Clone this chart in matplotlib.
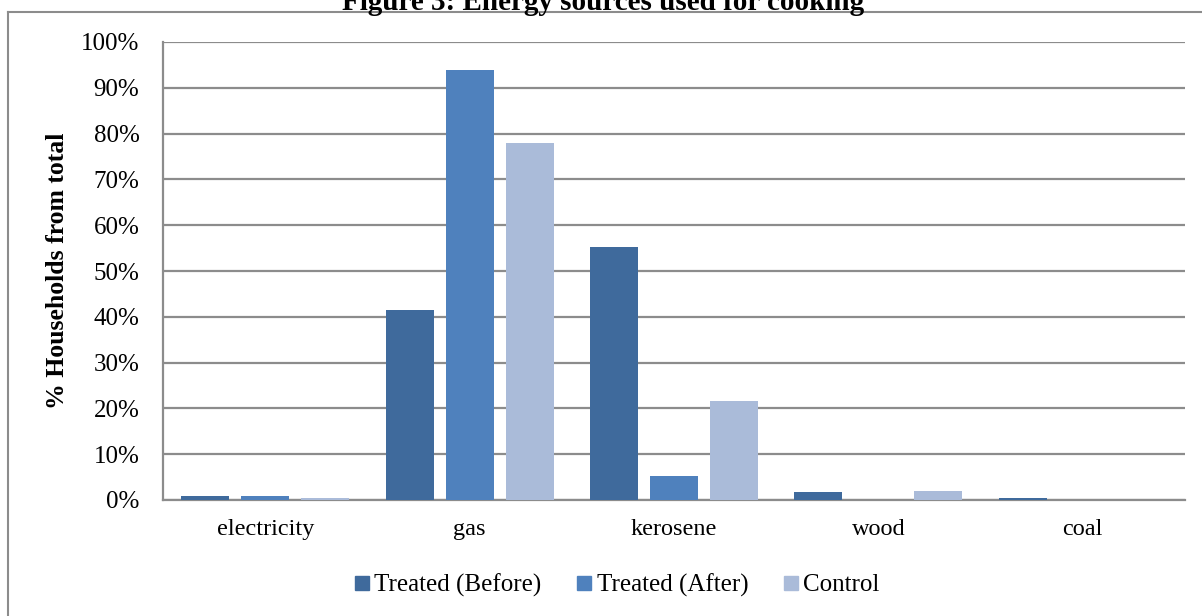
import numpy as np
import matplotlib.pyplot as plt
from matplotlib.lines import Line2D

# data (% of households)
categories = ['electricity', 'gas', 'kerosene', 'wood', 'coal']
treated_before = [0.9, 41.5, 55.2, 1.7, 0.4]
treated_after = [0.9, 93.9, 5.2, 0.0, 0.0]
control = [0.4, 78.0, 21.6, 2.0, 0.0]
series_names = ['Treated (Before)', 'Treated (After)', 'Control']
colors = ['#3F6A9C', '#4F81BD', '#AABBD9']

plt.rcParams['font.family'] = ['Liberation Serif', 'DejaVu Serif']

fig = plt.figure(figsize=(12.02, 6.16), dpi=100)
ax = fig.add_axes([163 / 1202, 1 - 500 / 616, (1185 - 163) / 1202, 458 / 616])

x = np.arange(len(categories))
step = 0.2935
width = 0.235
for i, (vals, name, c) in enumerate(zip([treated_before, treated_after, control], series_names, colors)):
    ax.bar(x + (i - 1) * step, vals, width, color=c, label=name, zorder=3)

ax.set_xlim(-0.5, len(categories) - 0.5)
ax.set_ylim(0, 100)
ax.set_yticks(np.arange(0, 101, 10))
ax.set_yticklabels([f'{v}%' for v in range(0, 101, 10)], fontsize=18)
ax.set_xticks(x)
ax.set_xticklabels(categories, fontsize=17.5)
ax.tick_params(axis='y', length=0, pad=17)
ax.tick_params(axis='x', length=0, pad=14)
ax.yaxis.grid(True, color='#8C8C8C', linewidth=1.6, zorder=0)
for s in ['top', 'right']:
    ax.spines[s].set_visible(False)
ax.spines['left'].set_color('#8C8C8C')
ax.spines['left'].set_linewidth(1.6)
ax.spines['bottom'].set_color('#8C8C8C')
ax.spines['bottom'].set_linewidth(1.6)
ax.set_ylabel('% Households from total', fontsize=18.5, fontweight='bold', labelpad=9)

handles = [Line2D([], [], marker='s', linestyle='none', markersize=10.5, color=c) for c in colors]
fig.legend(handles, series_names, loc='center', bbox_to_anchor=(617 / 1202, 1 - 585 / 616),
           ncol=3, frameon=False, fontsize=18, handlelength=0.6, handletextpad=0.2,
           columnspacing=1.4)

# title, cut off at the top like the reference
fig.text(0.502, 1 - 10 / 616, 'Figure 3: Energy sources used for cooking', ha='center', va='baseline',
         fontsize=21, fontweight='bold')

# outer frame (left and top edges visible)
fig.add_artist(Line2D([8 / 1202, 8 / 1202], [0, 1 - 12 / 616], color='#8C8C8C', linewidth=1.5,
                      transform=fig.transFigure))
fig.add_artist(Line2D([8 / 1202, 1], [1 - 12 / 616, 1 - 12 / 616], color='#8C8C8C', linewidth=1.5,
                      transform=fig.transFigure))

fig.savefig('out.png', dpi=100)
